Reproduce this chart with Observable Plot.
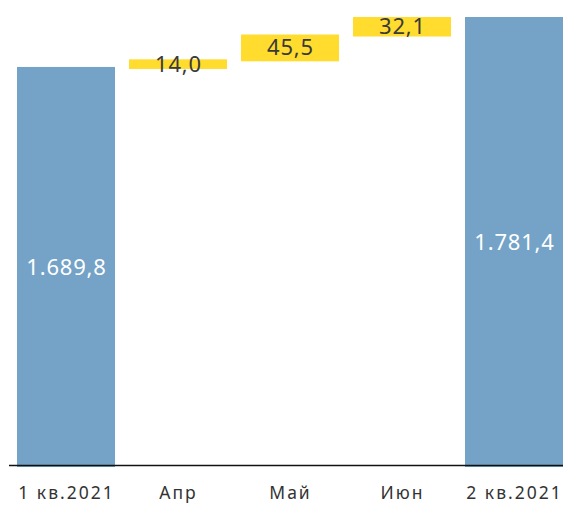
<!DOCTYPE html>
<html>
<head>
<meta charset="utf-8">
<script src="https://cdn.jsdelivr.net/npm/d3@7"></script>
<script src="https://cdn.jsdelivr.net/npm/@observablehq/plot@0.6"></script>
<style>
  html, body { margin: 0; padding: 0; background: #fff; }
  #chart { width: 567px; height: 505px; }
  #chart g[aria-label="x-axis tick label"] text { letter-spacing: 2px; }
  #chart g[aria-label="text"] text { letter-spacing: 0.8px; }
</style>
</head>
<body>
<div id="chart"></div>
<script>
const categories = ["1 кв.2021", "Апр", "Май", "Июн", "2 кв.2021"];
const values = [1689.8, 14.0, 45.5, 32.1, 1781.4];
const kinds = ["total", "delta", "delta", "delta", "total"];
const yMin = 960;

const fmt = d3.formatLocale({decimal: ",", thousands: ".", grouping: [3], currency: ["", ""]}).format(",.1f");

let cum = 0;
const rows = categories.map((c, i) => {
  let y1, y2;
  if (kinds[i] === "total") { y1 = yMin; y2 = values[i]; cum = values[i]; }
  else { y1 = cum; y2 = cum + values[i]; cum = y2; }
  return {cat: c, y1, y2, mid: (y1 + y2) / 2, value: values[i], kind: kinds[i]};
});

const chart = Plot.plot({
  width: 567,
  height: 505,
  marginTop: 17,
  marginBottom: 40,
  marginLeft: 16,
  marginRight: 4,
  style: {fontFamily: "Noto Sans, sans-serif", background: "#fff"},
  x: {domain: categories, padding: 0.127, paddingOuter: 0, label: null},
  y: {domain: [yMin, 1781.4], axis: null},
  color: {domain: ["total", "delta"], range: ["#74a3c7", "#ffdc2e"]},
  marks: [
    Plot.barY(rows, {x: "cat", y1: "y1", y2: "y2", fill: "kind", insetBottom: -2}),
    Plot.text(rows, {x: "cat", y: "mid", text: d => fmt(d.value), dy: 1,
      fill: d => d.kind === "total" ? "#ffffff" : "#3a3a3a", fontSize: 22}),
    Plot.ruleY([yMin], {stroke: "#111", strokeWidth: 1.5, insetLeft: -7}),
    Plot.axisX({tickSize: 0, tickPadding: 21, fontSize: 17.5, color: "#333", label: null})
  ]
});
document.getElementById("chart").appendChild(chart);
</script>
</body>
</html>
